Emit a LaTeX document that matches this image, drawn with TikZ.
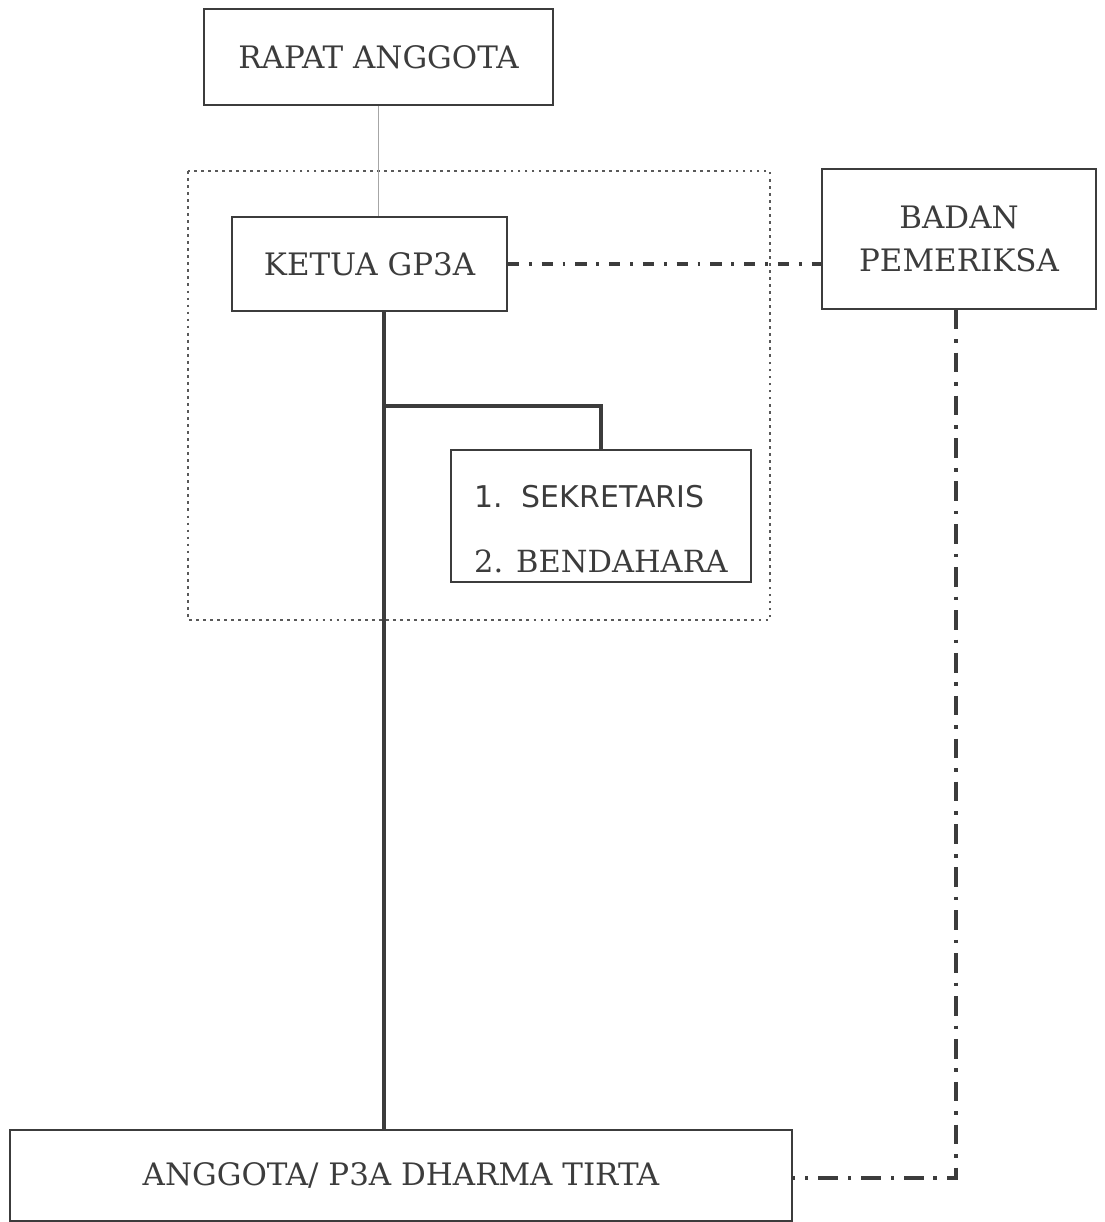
\documentclass[tikz,border=0pt]{standalone}
\usepackage{fontspec}
\setmainfont{DejaVu Serif}
\setsansfont{DejaVu Sans}
\usetikzlibrary{positioning}
\definecolor{ink}{HTML}{3C3C3C}

\begin{document}
\begin{tikzpicture}[x=0.025cm, y=-0.025cm,
  every node/.style={font=\fontsize{22}{30}\selectfont, text=ink},
  box/.style={draw=ink, line width=1.1pt, inner sep=0pt, align=center},
  link/.style={draw=ink, line width=2.4pt},
  thinlink/.style={draw=gray!70, line width=0.6pt},
  dashdot/.style={draw=ink, line width=2.2pt, dash pattern=on 8pt off 7pt on 2pt off 7pt},
  dashdotlong/.style={draw=ink, line width=2.2pt, dash pattern=on 14pt off 7pt on 2.5pt off 7pt}]
\path[use as bounding box] (0,0) rectangle (1104,1222);
\node[box, minimum width=8.725cm, minimum height=2.4cm] (rapat) at (378.5,57) {RAPAT ANGGOTA};
\draw[ink!85, line width=2pt, dash pattern=on 2pt off 3pt] (188,171) rectangle (770,620);
\node[box, minimum width=6.875cm, minimum height=2.35cm] (ketua) at (369.5,264) {KETUA GP3A};
\node[box, minimum width=6.85cm, minimum height=3.5cm] (badan) at (959,239) {BADAN\\PEMERIKSA};
\node[box, minimum width=7.5cm, minimum height=3.3cm] (staf) at (601,516) {};
\node[align=left, font=\fontsize{21.7}{46}\selectfont] (stafisi) at (601,529)
  {{\sffamily\fontsize{21.3}{46}\selectfont 1.\ \ SEKRETARIS}\\2. BENDAHARA};
\node[box, minimum width=19.55cm, minimum height=2.275cm] (anggota) at (401,1175.5)
  {ANGGOTA/ P3A DHARMA TIRTA};
\coordinate (cabang) at (384,406);
\coordinate (siku) at (956,1178);
\draw[thinlink] (rapat.south) -- (rapat.south |- ketua.north);
\draw[dashdot] (ketua.east) -- (ketua.east -| badan.west);
\draw[link] (cabang |- ketua.south) -- (cabang |- anggota.north);
\draw[link] (cabang) -| (staf.north);
\draw[dashdotlong] (siku |- badan.south) -- (siku) -- (anggota.east |- siku);
\end{tikzpicture}
\end{document}
